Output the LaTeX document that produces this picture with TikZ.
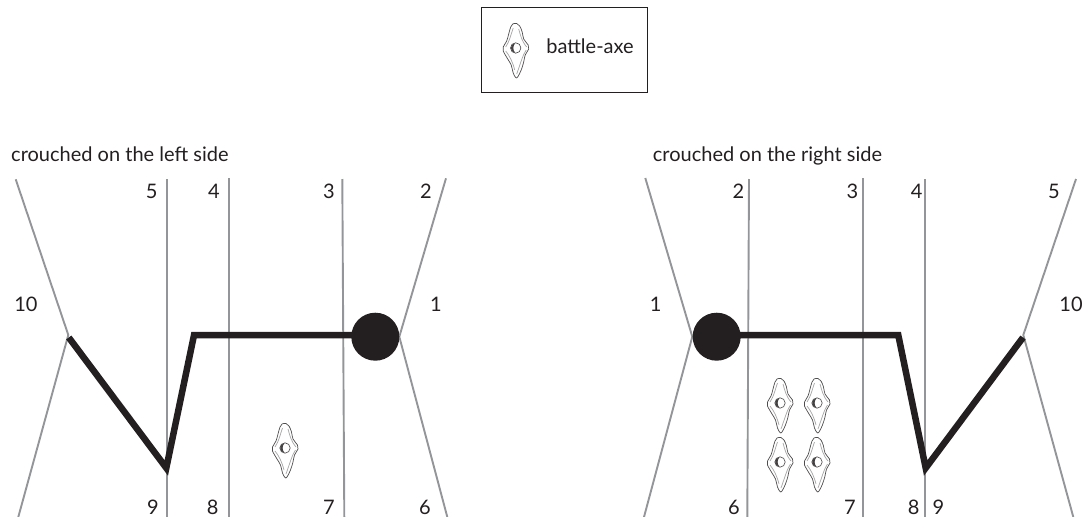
\documentclass[tikz,border=0pt]{standalone}
\usepackage{fontspec}
\setmainfont{Lato}
\definecolor{ink}{HTML}{231F20}
\definecolor{rule}{HTML}{939598}
\tikzset{
  x=1pt,y=-1pt,
  lab/.style={anchor=base,inner sep=0pt,font=\fontsize{20}{24}\selectfont,text=ink},
  ttl/.style={lab,anchor=base west},
  guide/.style={draw=rule,line width=1.9pt},
  body/.style={draw=ink,line width=6.5pt,miter limit=10,line join=miter},
  head/.style={circle,fill=ink,minimum size=48pt,inner sep=0pt},
  axe/.pic={
    \draw[draw=ink!80,line width=.7pt,fill=white,line join=round]
      plot[smooth cycle,tension=.6] coordinates {(-5,-21)(-3,-24)(1,-24.5)(4,-22)(6.5,-16)(8,-9)(12.5,-3)(13,1)(9.5,7)(8,14)(5.5,22)(2,29)(0,29.5)(-2.5,25)(-4.5,17)(-8,11)(-12.5,3)(-12.5,-1)(-9,-7)(-7,-14)};
    \draw[draw=ink!40,line width=.7pt] (-2.5,-20) .. controls (-5,-13) and (-6,-7) .. (-10,-1);
    \draw[draw=ink!40,line width=.7pt] (3,-19) .. controls (5,-12) and (6,-7) .. (11,-1);
    \draw[draw=ink!40,line width=.7pt] (10.5,2) .. controls (7,7) and (5,15) .. (1,26);
    \draw[draw=ink!40,line width=.7pt] (-10,3) .. controls (-6,8) and (-3,14) .. (-1,22);
    \draw[draw=ink!85,line width=.6pt] (0,0) circle[radius=5.2];
    \fill[ink!85] (-0.5,-4.8) .. controls (-6.2,-4.5) and (-6.2,4.5) .. (-0.5,4.8) .. controls (-3,2) and (-3,-2) .. (-0.5,-4.8);
  }
}
\begin{document}
\begin{tikzpicture}
\useasboundingbox (0,0) rectangle (1085,517);
% legend
\node[draw=ink,line width=.9pt,minimum width=166pt,minimum height=85pt,inner sep=0pt] (legend) at (564,49.8) {};
\pic (legendaxe) at (515.7,48) {axe};
\node[lab] (legendtext) at (590,53) {battle-axe};
% titles
\node[ttl] (titleL) at (11,161.7) {crouched on the left side};
\node[ttl] (titleR) at (652.7,161.7) {crouched on the right side};
% named points, left
\coordinate (la) at (15.7,179.3); \coordinate (lb) at (68.3,335); \coordinate (lc) at (18.3,517);
\coordinate (l5t) at (166.7,179); \coordinate (l5b) at (166.7,517);
\coordinate (l4t) at (228.7,178); \coordinate (l4b) at (228.7,517);
\coordinate (l3t) at (342.3,179); \coordinate (l3b) at (344.3,517);
\coordinate (lra) at (446,178.3); \coordinate (lrb) at (399.3,336.7); \coordinate (lrc) at (447.3,517);
\draw[guide] (la) -- (lb) -- (lc);
\draw[guide] (l5t) -- (l5b);
\draw[guide] (l4t) -- (l4b);
\draw[guide] (l3t) -- (l3b);
\draw[guide] (lra) -- (lrb) -- (lrc);
\coordinate (lfoot) at (68.8,337.5); \coordinate (lknee) at (166.3,468); \coordinate (lhip) at (194,335.2);
\node[head] (lhead) at (375.3,336.7) {};
\draw[body] (lfoot) -- (lknee) -- (lhip) -- (lhead.center |- lhip);
% named points, right
\coordinate (ra) at (645.3,178); \coordinate (rb) at (692.3,336.7); \coordinate (rc) at (644,517);
\coordinate (r2t) at (749,179); \coordinate (r2b) at (747.3,517);
\coordinate (r3t) at (863,178); \coordinate (r3b) at (863,517);
\coordinate (r4t) at (925,179); \coordinate (r4b) at (925,517);
\coordinate (rra) at (1076,179); \coordinate (rrb) at (1023.3,335); \coordinate (rrc) at (1073.3,517);
\draw[guide] (ra) -- (rb) -- (rc);
\draw[guide] (r2t) -- (r2b);
\draw[guide] (r3t) -- (r3b);
\draw[guide] (r4t) -- (r4b);
\draw[guide] (rra) -- (rrb) -- (rrc);
\coordinate (rfoot) at (1023,337.5); \coordinate (rknee) at (925.7,468); \coordinate (rhip) at (898.3,335.2);
\node[head] (rhead) at (716.7,336.7) {};
\draw[body] (rfoot) -- (rknee) -- (rhip) -- (rhead.center |- rhip);
% axes
\pic (axeL) at (285,448) {axe};
\pic (axeA) at (780,403) {axe};
\pic (axeB) at (817,403) {axe};
\pic (axeC) at (780,462) {axe};
\pic (axeD) at (817,462) {axe};
% numbers, left
\node[lab] (l5) at (151.7,198) {5};
\node[lab] (l4) at (214,198) {4};
\node[lab] (l3) at (329,198) {3};
\node[lab] (l2) at (426,198) {2};
\node[lab] (l10) at (26,311.5) {10};
\node[lab] (l1) at (436,311.5) {1};
\node[lab] (l9) at (153,514) {9};
\node[lab] (l8) at (212.7,514) {8};
\node[lab] (l7) at (329,514) {7};
\node[lab] (l6) at (425,514) {6};
% numbers, right
\node[lab] (r2) at (738.3,198) {2};
\node[lab] (r3) at (852.3,198) {3};
\node[lab] (r4) at (916.7,198) {4};
\node[lab] (r5) at (1054,198) {5};
\node[lab] (r1) at (655.7,311.5) {1};
\node[lab] (r10) at (1071,311.5) {10};
\node[lab] (r6) at (734,514) {6};
\node[lab] (r7) at (850,514) {7};
\node[lab] (r8) at (913.7,514) {8};
\node[lab] (r9) at (938.3,514) {9};
\end{tikzpicture}
\end{document}
